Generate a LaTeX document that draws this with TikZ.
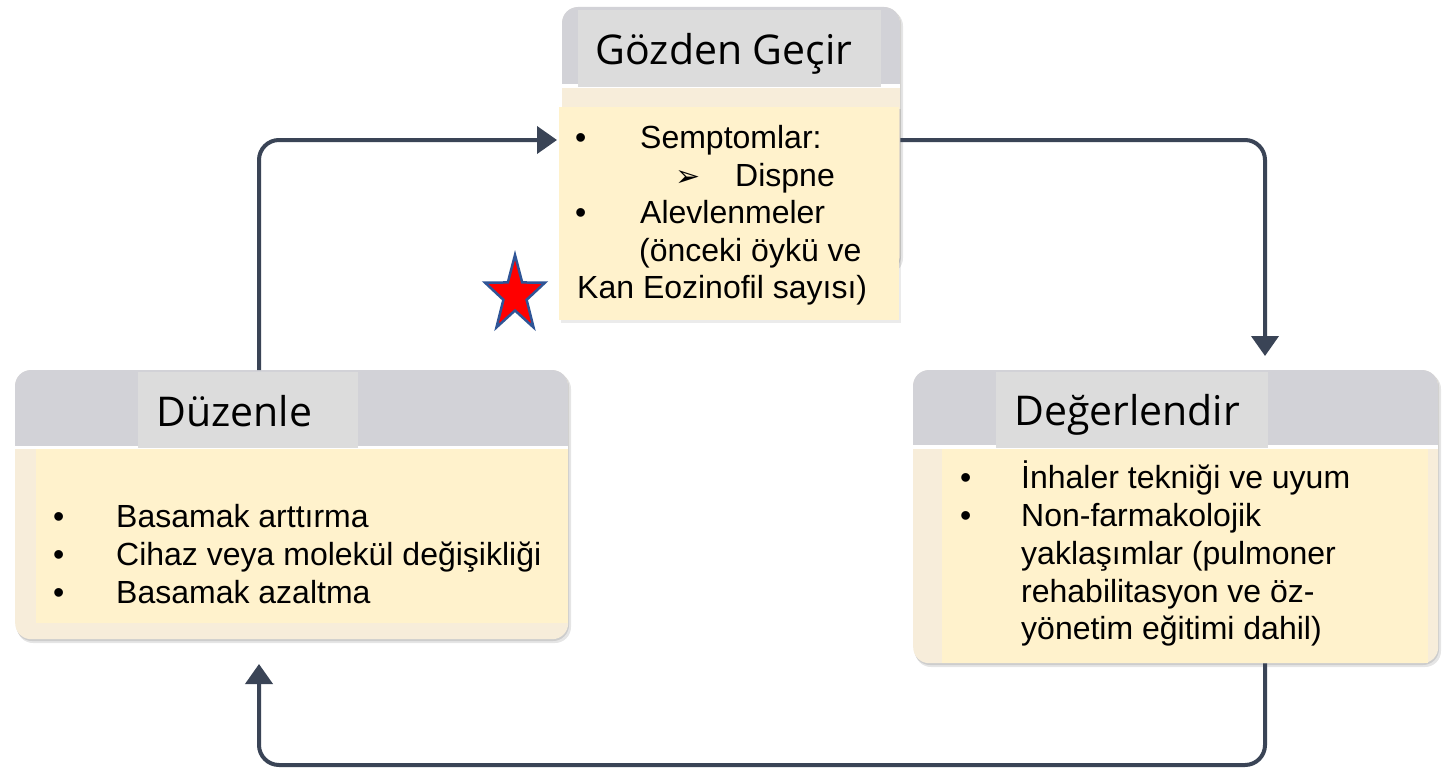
\documentclass[tikz,border=0pt]{standalone}
\usepackage{fontspec}
\setmainfont{Liberation Sans}
\newfontfamily\titlefont{Open Sans}
\newfontfamily\symfont{DejaVu Sans}
\usetikzlibrary{arrows.meta,calc}
\definecolor{hdr}{HTML}{D2D2D7}
\definecolor{ttl}{HTML}{DCDCDC}
\definecolor{crm}{HTML}{FFF2CC}
\definecolor{bge}{HTML}{F7EDDA}
\definecolor{arw}{HTML}{3A4456}
\definecolor{stb}{HTML}{2F5597}
\begin{document}
\begin{tikzpicture}[x=1pt,y=-1pt,
  card/.style={rounded corners=16pt, fill=bge, inner sep=0pt, anchor=north west},
  ttlbox/.style={fill=ttl, inner sep=0pt, anchor=north west},
  crmbox/.style={fill=crm, inner sep=0pt, anchor=north west},
  txt/.style={anchor=base west, inner sep=0pt, font=\fontsize{32}{38}\selectfont},
  ttxt/.style={anchor=base west, inner sep=0pt, font=\titlefont\fontsize{41}{48}\selectfont},
  arr/.style={draw=arw, line width=4pt, rounded corners=20pt, -{Triangle[length=20pt,width=27pt]}},
  shd/.style={fill=black, opacity=0.10, rounded corners=16pt}
]
\useasboundingbox (0,0) rectangle (1445,768);
\fill[white] (0,0) rectangle (1445,768);

% ---------- top card: Gozden Gecir ----------
\fill[shd] (564,10) rectangle (903,274);
\fill[shd] (563,8) rectangle (901,272);
\node[card, minimum width=338pt, minimum height=263pt] (gzc) at (562,7) {};
\fill[hdr] (562,84) {[rounded corners=16pt] -- (562,7) -- (900,7)} -- (900,84) -- cycle;
\fill[white] (562,84) rectangle (900,88);
\node[ttlbox, minimum width=303pt, minimum height=77pt] (gzt) at (578,10) {};
\node[ttxt] (gztx) at (595,65) {Gözden Geçir};
\fill[black, opacity=0.08] (561,109) rectangle (901,323);
\node[crmbox, minimum width=340pt, minimum height=213pt] (gzb) at (559,107) {};
\node[txt] (g1) at (575,148) {\makebox[65pt][l]{•}Semptomlar:};
\node[txt] (g2) at (675,186) {\makebox[60pt][l]{\symfont\fontsize{30}{30}\selectfont ➢}Dispne};
\node[txt] (g3) at (575,223) {\makebox[65pt][l]{•}Alevlenmeler};
\node[txt] (g4) at (639,261) {(önceki öykü ve};
\node[txt] (g5) at (577,298) {Kan Eozinofil sayısı)};

% ---------- left card: Duzenle ----------
\fill[shd] (17,373) rectangle (571,643);
\fill[shd] (16,371) rectangle (569,641);
\node[card, minimum width=553pt, minimum height=269pt] (dzc) at (15,370) {};
\fill[hdr] (15,446) {[rounded corners=16pt] -- (15,370) -- (568,370)} -- (568,446) -- cycle;
\fill[white] (15,446) rectangle (568,449);
\node[ttlbox, minimum width=220pt, minimum height=76pt] (dzt) at (138,372) {};
\node[ttxt] (dztx) at (156,426) {Düzenle};
\node[crmbox, minimum width=532pt, minimum height=174pt] (dzb) at (36,449) {};
\node[txt] (d1) at (53,527) {\makebox[63pt][l]{•}Basamak arttırma};
\node[txt] (d2) at (53,565) {\makebox[63pt][l]{•}Cihaz veya molekül değişikliği};
\node[txt] (d3) at (53,603) {\makebox[63pt][l]{•}Basamak azaltma};

% ---------- right card: Degerlendir ----------
\fill[shd] (915,373) rectangle (1441,667);
\fill[shd] (914,371) rectangle (1439,665);
\node[card, minimum width=525pt, minimum height=293pt] (dgc) at (913,370) {};
\fill[hdr] (913,445) {[rounded corners=16pt] -- (913,370) -- (1438,370)} -- (1438,445) -- cycle;
\fill[white] (913,445) rectangle (1438,449);
\node[ttlbox, minimum width=272pt, minimum height=76pt] (dgt) at (996,372) {};
\node[ttxt] (dgtx) at (1014,425) {Değerlendir};
\node[crmbox, minimum width=486pt, minimum height=214pt] (dgb) at (942,449) {};
\node[txt] (r1) at (960,488) {\makebox[61pt][l]{•}İnhaler tekniği ve uyum};
\node[txt] (r2) at (960,526) {\makebox[61pt][l]{•}Non-farmakolojik};
\node[txt] (r3) at (1021,564) {yaklaşımlar (pulmoner};
\node[txt] (r4) at (1021,602) {rehabilitasyon ve öz-};
\node[txt] (r5) at (1021,639) {yönetim eğitimi dahil)};

% ---------- connectors ----------
\coordinate (xl) at (259,0);
\coordinate (xr) at (1265,0);
\coordinate (ya) at (0,140);
\coordinate (yb) at (0,765);
\coordinate (t1) at (557,140);
\coordinate (t2) at (1265,356);
\coordinate (t3) at (259,664);
\draw[arr] (dzc.north -| xl) |- (t1);
\draw[arr] (gzc.east |- ya) -| (t2);
\draw[arr] (dgc.south -| xr) -- (xr |- yb) -- (xl |- yb) -- (t3);

% ---------- star ----------
\draw[stb, line width=2.5pt, fill=red, line join=miter]
  (515,255) \foreach \k/\rx/\ry in {1/12.2/15.5,2/31.5/40,3/12.2/15.5,4/31.5/40,5/12.2/15.5,6/31.5/40,7/12.2/15.5,8/31.5/40,9/12.2/15.5}
  { -- ({515+\rx*sin(36*\k)},{295-\ry*cos(36*\k)}) } -- cycle;
\end{tikzpicture}
\end{document}
